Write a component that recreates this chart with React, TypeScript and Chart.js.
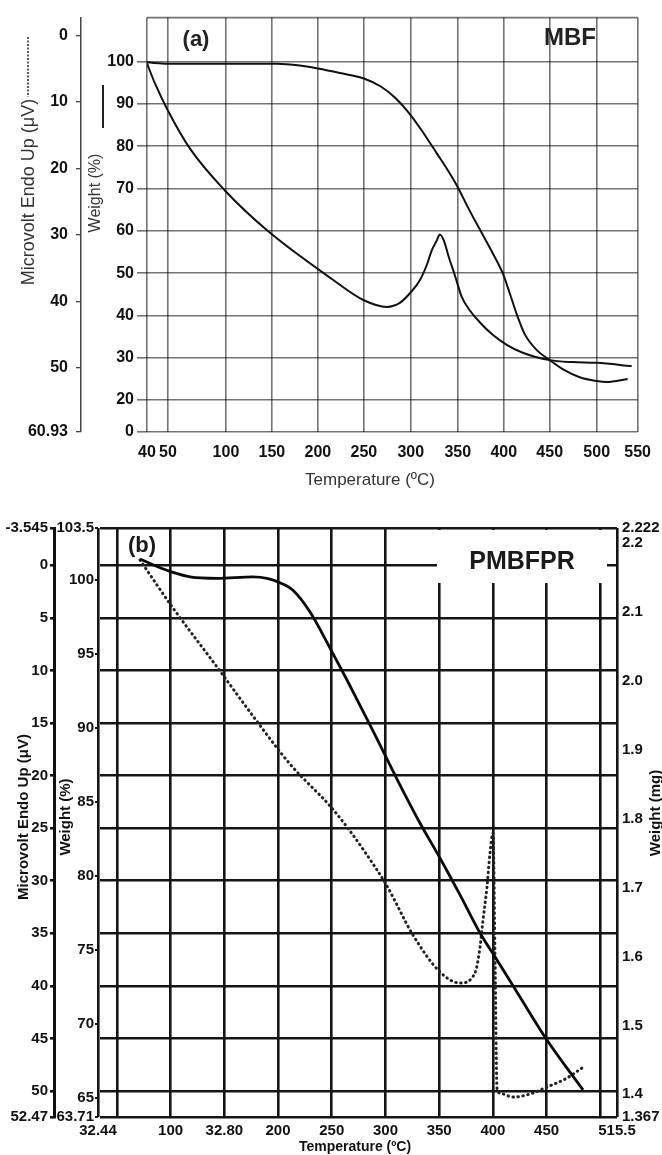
import React, { useEffect, useRef } from 'react';
import { Chart, registerables, LinearScale } from 'chart.js';

// ---------------- Panel (a): MBF ----------------
const A_TGA_T = [40, 50, 100, 155.4, 180.4, 200, 223.9, 250, 268.1, 283, 300, 313.8, 327.7, 339.4, 350, 360.9, 373.9, 386.9, 398.9, 406.5, 414.1, 422.8, 435.9, 450, 463.8, 481.9, 500, 512.2, 537.8];
const A_TGA_W = [99.8, 99.5, 99.5, 99.5, 99.06, 98.35, 97.29, 96.0, 94.1, 91.5, 87.3, 83.0, 78.3, 74.3, 70.3, 65.6, 60.35, 55.16, 49.97, 45.25, 40.3, 35.57, 31.8, 29.44, 27.3, 25.4, 24.5, 24.25, 24.96];
const A_DSC_T = [40, 43.8, 50, 69, 99.1, 145.7, 215.2, 250, 274.5, 288.3, 300, 309.6, 317, 322.3, 327.7, 330.9, 335.1, 340.4, 346.8, 354.3, 363, 373.9, 388, 403.3, 420.7, 450, 474.5, 500, 542.7];
const A_DSC_U = [4.2, 7.2, 11.3, 17.0, 23.3, 29.4, 36.6, 39.8, 40.8, 40.2, 38.6, 36.8, 34.5, 32.3, 30.8, 29.9, 30.8, 33.3, 36.0, 39.3, 41.3, 43.1, 45.0, 46.5, 47.7, 48.8, 49.1, 49.2, 49.7];

const XA_TICKS = [40, 50, 100, 150, 200, 250, 300, 350, 400, 450, 500, 550];
const WA_TICKS = [0, 20, 30, 40, 50, 60, 70, 80, 90, 100];
const UA_TICKS = [0, 10, 20, 30, 40, 50, 60.93];

// ---------------- Panel (b): PMBFPR ----------------
const B_TGA_T = [71.5, 87.4, 102.2, 118.1, 143.2, 176.7, 189.7, 201.8, 213.9, 229.8, 248.4, 264.2, 288.4, 310.7, 332.1, 350.7, 369.4, 388.0, 403.8, 425.2, 450.3, 483.9];
const B_TGA_W = [101.4, 100.9, 100.5, 100.2, 100.1, 100.2, 100.1, 99.8, 99.3, 97.83, 95.39, 93.23, 89.79, 86.54, 83.57, 81.21, 78.71, 76.14, 74.32, 71.82, 68.91, 65.54];
const B_DSC_T = [71.5, 102.2, 143.2, 176.7, 211.1, 248.4, 264.2, 280.9, 301.4, 325.6, 350.8, 369.4, 383.3, 388.0, 390.8, 394.5, 397.3, 400.1, 402.0, 403.8, 406.6, 418.7, 434.5, 450.3, 469.0, 482.9];
const B_DSC_U = [-0.5, 4.06, 9.67, 14.34, 18.9, 22.89, 24.89, 27.27, 30.5, 35.16, 38.68, 39.73, 38.78, 36.3, 33.74, 30.6, 27.36, 25.46, 37.54, 49.71, 50.19, 50.57, 50.28, 49.62, 48.76, 47.81];

const XB_TICKS = [32.44, 50, 100, 150, 200, 250, 300, 350, 400, 450, 500, 515.5];
const XB_LABELS = ['32.44', '', '100', '32.80', '200', '250', '300', '350', '400', '450', '', '515.5'];
const WB_TICKS = [63.71, 65, 70, 75, 80, 85, 90, 95, 100, 103.5];
const UB_TICKS = [-3.545, 0, 5, 10, 15, 20, 25, 30, 35, 40, 45, 50, 52.47];
const MB_TICKS = [1.367, 1.4, 1.5, 1.6, 1.7, 1.8, 1.9, 2.0, 2.1, 2.2, 2.222];
const MB_LABELS = ['1.367', '1.4', '1.5', '1.6', '1.7', '1.8', '1.9', '2.0', '2.1', '2.2', '2.222'];

// Axis calibration of the scanned panel (a): value -> fraction along the axis
const SCALE_BREAKS: Record<string, number[][]> = {
  xa: [[40, 0], [50, 21 / 491], [100, 79 / 491], [150, 125 / 491], [200, 171 / 491], [250, 217 / 491], [300, 264 / 491], [350, 311 / 491], [400, 357 / 491], [450, 403 / 491], [500, 450 / 491], [550, 1]],
  wa: [[0, 0], [20, 32 / 415], [110.38, 1]],
  ua: [[-2.7, 0], [50, 351 / 415], [60.93, 1]],
};

class PiecewiseScale extends LinearScale {
  static id = 'piecewise';
  toDecimal(v: number) {
    const b = SCALE_BREAKS[(this as any).id];
    let i = 0;
    while (i < b.length - 2 && v > b[i + 1][0]) i++;
    const [v0, f0] = b[i];
    const [v1, f1] = b[i + 1];
    return f0 + ((v - v0) / (v1 - v0)) * (f1 - f0);
  }
  fromDecimal(d: number) {
    const b = SCALE_BREAKS[(this as any).id];
    let i = 0;
    while (i < b.length - 2 && d > b[i + 1][1]) i++;
    const [v0, f0] = b[i];
    const [v1, f1] = b[i + 1];
    return v0 + ((d - f0) / (f1 - f0)) * (v1 - v0);
  }
  getPixelForValue(value: number) {
    if (value === null || value === undefined || isNaN(value)) return NaN;
    return (this as any).getPixelForDecimal(this.toDecimal(value));
  }
  getValueForPixel(pixel: number) {
    return this.fromDecimal((this as any).getDecimalForPixel(pixel));
  }
}

Chart.register(...registerables, PiecewiseScale as any);

const FONT = 'Liberation Sans, Arial, sans-serif';

function pts(xs: number[], ys: number[]) {
  return xs.map((x, i) => ({ x, y: ys[i] }));
}

function text(ctx: CanvasRenderingContext2D, s: string, x: number, y: number, font: string, color: string, rot = 0) {
  ctx.save();
  ctx.translate(x, y);
  ctx.rotate(rot);
  ctx.font = font;
  ctx.fillStyle = color;
  ctx.textAlign = 'center';
  ctx.textBaseline = 'middle';
  ctx.fillText(s, 0, 0);
  ctx.restore();
}

const GRID_A = 'rgba(0,0,0,0.55)';
const GRID_B = '#151515';

const decorA = {
  id: 'decorA',
  afterDraw(chart: any) {
    const { ctx, chartArea } = chart;
    ctx.save();
    ctx.strokeStyle = GRID_A;
    ctx.lineWidth = 1.6;
    ctx.beginPath();
    ctx.moveTo(chartArea.left, chartArea.top);
    ctx.lineTo(chartArea.right, chartArea.top);
    ctx.stroke();
    // legend marks next to axis titles
    ctx.strokeStyle = '#333';
    ctx.lineWidth = 1.6;
    ctx.setLineDash([2, 1.5]);
    ctx.beginPath();
    ctx.moveTo(28, 37);
    ctx.lineTo(28, 97);
    ctx.stroke();
    ctx.setLineDash([]);
    ctx.strokeStyle = '#222';
    ctx.lineWidth = 2;
    ctx.beginPath();
    ctx.moveTo(103, 85);
    ctx.lineTo(103, 128);
    ctx.stroke();
    ctx.restore();
    text(ctx, '(a)', 196, 40, `bold 22px ${FONT}`, '#222');
    text(ctx, 'MBF', 570, 38, `bold 24px ${FONT}`, '#222');
    text(ctx, 'Microvolt Endo Up (μV)', 29, 192, `18px ${FONT}`, '#333', -Math.PI / 2);
    text(ctx, 'Weight (%)', 96, 193, `16px ${FONT}`, '#333', -Math.PI / 2);
    text(ctx, 'Temperature (ºC)', 370, 480, `17px ${FONT}`, '#333');
  },
};

const decorB = {
  id: 'decorB',
  afterDraw(chart: any) {
    const { ctx } = chart;
    ctx.save();
    ctx.fillStyle = '#fff';
    ctx.fillRect(437, 35, 170, 53);
    ctx.restore();
    text(ctx, 'PMBFPR', 522, 67, `bold 25px ${FONT}`, '#1a1a1a');
    text(ctx, '(b)', 142, 51, `bold 22px ${FONT}`, '#1a1a1a');
    text(ctx, 'Microvolt Endo Up (μV)', 24, 322, `bold 15px ${FONT}`, '#111', -Math.PI / 2);
    text(ctx, 'Weight (%)', 66, 322, `bold 15px ${FONT}`, '#111', -Math.PI / 2);
    text(ctx, 'Weight (mg)', 656, 318, `bold 15px ${FONT}`, '#111', -Math.PI / 2);
    text(ctx, 'Temperature (ºC)', 355, 652, `bold 14px ${FONT}`, '#111');
  },
};

function setTicks(values: number[]) {
  return (scale: any) => {
    scale.ticks = values.map((v) => ({ value: v }));
  };
}

const tickFontA = { family: FONT, size: 16, weight: 'bold' as const };
const tickFontB = { family: FONT, size: 15, weight: 'bold' as const };

function configA(): any {
  return {
    type: 'line',
    data: {
      datasets: [
        { label: 'Weight (%)', data: pts(A_TGA_T, A_TGA_W), xAxisID: 'xa', yAxisID: 'wa', borderColor: '#111', borderWidth: 2, pointRadius: 0, cubicInterpolationMode: 'monotone', fill: false },
        { label: 'Microvolt Endo Up (μV)', data: pts(A_DSC_T, A_DSC_U), xAxisID: 'xa', yAxisID: 'ua', borderColor: '#111', borderWidth: 2, pointRadius: 0, cubicInterpolationMode: 'monotone', fill: false },
      ],
    },
    options: {
      responsive: false,
      animation: false,
      layout: { padding: { top: 17, right: 24, left: 0, bottom: 0 } },
      plugins: { legend: { display: false }, tooltip: { enabled: false } },
      scales: {
        xa: {
          type: 'piecewise', position: 'bottom', min: 40, max: 550,
          afterBuildTicks: setTicks(XA_TICKS),
          afterFit: (s: any) => { s.height = 63; },
          ticks: { autoSkip: false, maxRotation: 0, minRotation: 0, padding: 11, font: tickFontA, color: '#111', callback: (v: any, i: number) => String(XA_TICKS[i]) },
          grid: { color: GRID_A, lineWidth: 1.6, drawTicks: false },
          border: { display: false },
        },
        wa: {
          type: 'piecewise', position: 'left', weight: 1, min: 0, max: 110.38,
          afterBuildTicks: setTicks(WA_TICKS),
          afterFit: (s: any) => { s.width = 66; },
          ticks: { autoSkip: false, padding: 3, font: tickFontA, color: '#111', callback: (v: any, i: number) => String(WA_TICKS[i]) },
          grid: { color: GRID_A, lineWidth: 1.6, drawTicks: true, tickLength: 10 },
          border: { display: false },
        },
        ua: {
          type: 'piecewise', position: 'left', weight: 2, reverse: true, min: -2.7, max: 60.93,
          afterBuildTicks: setTicks(UA_TICKS),
          afterFit: (s: any) => { s.width = 81; },
          ticks: { autoSkip: false, padding: 8, font: tickFontA, color: '#111', callback: (v: any, i: number) => String(UA_TICKS[i]) },
          grid: { drawOnChartArea: false, color: '#444', lineWidth: 1.3, drawTicks: true, tickLength: 5 },
          border: { display: true, color: '#444', width: 1.5 },
        },
      },
    },
    plugins: [decorA],
  };
}

function configB(): any {
  return {
    type: 'line',
    data: {
      datasets: [
        { label: 'Weight (%)', data: pts(B_TGA_T, B_TGA_W), xAxisID: 'xb', yAxisID: 'wb', borderColor: '#0a0a0a', borderWidth: 2.8, pointRadius: 0, cubicInterpolationMode: 'monotone', fill: false },
        { label: 'Microvolt Endo Up (μV)', data: pts(B_DSC_T, B_DSC_U), xAxisID: 'xb', yAxisID: 'ub', borderColor: '#222', borderWidth: 3, borderDash: [0.5, 4.5], borderCapStyle: 'round', pointRadius: 0, cubicInterpolationMode: 'monotone', fill: false },
      ],
    },
    options: {
      responsive: false,
      animation: false,
      layout: { padding: { top: 33, right: 0, left: 0, bottom: 0 } },
      plugins: { legend: { display: false }, tooltip: { enabled: false } },
      scales: {
        xb: {
          type: 'linear', position: 'bottom', min: 32.44, max: 515.5,
          afterBuildTicks: setTicks(XB_TICKS),
          afterFit: (s: any) => { s.height = 38; },
          ticks: { autoSkip: false, maxRotation: 0, minRotation: 0, padding: 5, font: tickFontB, color: '#111', callback: (v: any, i: number) => XB_LABELS[i] },
          grid: { color: GRID_B, lineWidth: 2.6, drawTicks: false },
          border: { display: false },
        },
        wb: {
          type: 'linear', position: 'left', weight: 1, min: 63.71, max: 103.5,
          afterBuildTicks: setTicks(WB_TICKS),
          afterFit: (s: any) => { s.width = 44; },
          ticks: { autoSkip: false, padding: 1, font: tickFontB, color: '#111', callback: (v: any, i: number) => String(WB_TICKS[i]) },
          grid: { drawOnChartArea: false, color: GRID_B, lineWidth: 2, drawTicks: true, tickLength: 3 },
          border: { display: false },
        },
        ub: {
          type: 'linear', position: 'left', weight: 2, reverse: true, min: -3.545, max: 52.47,
          afterBuildTicks: setTicks(UB_TICKS),
          afterFit: (s: any) => { s.width = 54; },
          ticks: { autoSkip: false, padding: 2, font: tickFontB, color: '#111', callback: (v: any, i: number) => String(UB_TICKS[i]) },
          grid: { color: GRID_B, lineWidth: 2.6, drawTicks: true, tickLength: 4 },
          border: { display: true, color: '#111', width: 3 },
        },
        mb: {
          type: 'linear', position: 'right', min: 1.367, max: 2.222,
          afterBuildTicks: setTicks(MB_TICKS),
          afterFit: (s: any) => { s.width = 45; },
          ticks: { autoSkip: false, padding: 5, font: tickFontB, color: '#111', callback: (v: any, i: number) => MB_LABELS[i] },
          grid: { display: false, drawTicks: false },
          border: { display: false },
        },
      },
    },
    plugins: [decorB],
  };
}

export default function App() {
  const refA = useRef<HTMLCanvasElement>(null);
  const refB = useRef<HTMLCanvasElement>(null);
  useEffect(() => {
    const a = new Chart(refA.current as HTMLCanvasElement, configA());
    const b = new Chart(refB.current as HTMLCanvasElement, configB());
    return () => {
      a.destroy();
      b.destroy();
    };
  }, []);
  return (
    <div style={{ position: 'absolute', left: 0, top: 0, width: 662, height: 1155, background: '#fff' }}>
      <canvas ref={refA} width={662} height={495} style={{ position: 'absolute', left: 0, top: 0 }} />
      <canvas ref={refB} width={662} height={660} style={{ position: 'absolute', left: 0, top: 495 }} />
    </div>
  );
}
